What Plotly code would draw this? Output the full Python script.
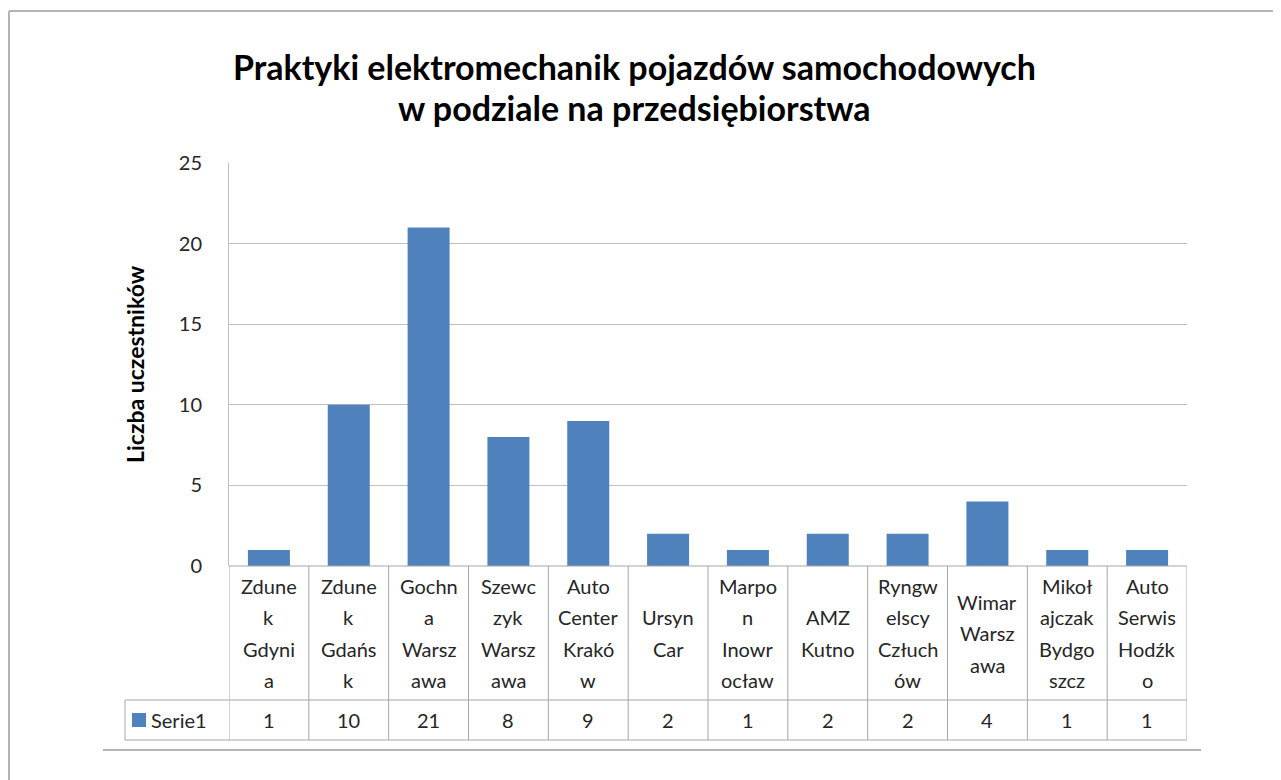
import plotly.graph_objects as go

# ---- data ----
categories = ["Zdunek Gdynia", "Zdunek Gdańsk", "Gochna Warszawa", "Szewczyk Warszawa",
              "Auto Center Kraków", "Ursyn Car", "Marpon Inowrocław", "AMZ Kutno",
              "Ryngwelscy Człuchów", "Wimar Warszawa", "Mikołajczak Bydgoszcz",
              "Auto Serwis Hodźko"]
label_lines = [["Zdune", "k", "Gdyni", "a"], ["Zdune", "k", "Gdańs", "k"],
               ["Gochn", "a", "Warsz", "awa"], ["Szewc", "zyk", "Warsz", "awa"],
               ["Auto", "Center", "Krakó", "w"], ["Ursyn", "Car"],
               ["Marpo", "n", "Inowr", "ocław"], ["AMZ", "Kutno"],
               ["Ryngw", "elscy", "Człuch", "ów"], ["Wimar", "Warsz", "awa"],
               ["Mikoł", "ajczak", "Bydgo", "szcz"], ["Auto", "Serwis", "Hodźk", "o"]]
values = [1, 10, 21, 8, 9, 2, 1, 2, 2, 4, 1, 1]
series_name = "Serie1"
y_ticks = [0, 5, 10, 15, 20, 25]
title_lines = ["Praktyki elektromechanik pojazdów samochodowych",
               "w podziale na przedsiębiorstwa"]
y_title = "Liczba uczestników"

# ---- layout geometry (screen pixels; page body has an 8px margin) ----
OFF = 8
W, H = 1281 - OFF, 780 - OFF
L, R, T, B = 229, 1187, 163, 566   # screen coords of the plot area
BAR = "#4F81BD"
GRID = "#bfbfbf"
TXT = "#262626"
FONT = "Lato"

def px(x):
    return (x - L) / (R - L)

def py(y):
    return (B - y) / (B - T)

fig = go.Figure()
fig.add_trace(go.Bar(x=list(range(len(values))), y=values, marker_color=BAR,
                     marker_line_width=0, name=series_name, showlegend=False))

fig.update_layout(
    width=W, height=H,
    margin=dict(l=L - OFF, r=W - (R - OFF), t=T - OFF, b=H - (B - OFF)),
    paper_bgcolor="white", plot_bgcolor="white",
    bargap=0.474,
    font=dict(family=FONT, color=TXT),
    xaxis=dict(range=[-0.5, len(values) - 0.5], showticklabels=False, showgrid=False,
               zeroline=False, showline=False, ticks=""),
    yaxis=dict(range=[0, 25], tickvals=y_ticks, showgrid=True, gridcolor=GRID, gridwidth=1,
               zeroline=False, showline=True, linecolor=GRID, linewidth=1,
               ticks="outside", ticklen=0, ticklabelstandoff=22,
               tickfont=dict(family=FONT, size=20, color=TXT)),
)

shapes = []
ann = []

# outer border lines (top and left)
shapes.append(dict(type="line", xref="paper", yref="paper", x0=px(9), x1=px(1290),
                   y0=py(11), y1=py(11), line=dict(color="#b4b4b4", width=2)))
shapes.append(dict(type="line", xref="paper", yref="paper", x0=px(9), x1=px(9),
                   y0=py(11), y1=py(790), line=dict(color="#b4b4b4", width=2)))
# bottom separator
shapes.append(dict(type="line", xref="paper", yref="paper", x0=px(103), x1=px(1201),
                   y0=py(750), y1=py(750), line=dict(color="#b4b4b4", width=2)))

# title
for i, t in enumerate(title_lines):
    ann.append(dict(text=f"<b>{t}</b>", xref="paper", yref="paper", x=px(634), y=py(67 + 40 * i),
                    showarrow=False, xanchor="center", yanchor="middle",
                    font=dict(family=FONT, size=34, color="#000000")))

# y title
ann.append(dict(text=f"<b>{y_title}</b>", xref="paper", yref="paper", x=px(135), y=py(364),
                textangle=-90, showarrow=False, xanchor="center", yanchor="middle",
                font=dict(family=FONT, size=23, color="#000000")))

# data table
TCOL = "#a6a6a6"
ROW1_B, ROW2_B = 700, 740
shapes.append(dict(type="line", xref="paper", yref="paper", x0=px(L), x1=px(R),
                   y0=py(B), y1=py(B), line=dict(color=TCOL, width=1)))
shapes.append(dict(type="line", xref="paper", yref="paper", x0=px(125), x1=px(R),
                   y0=py(ROW1_B), y1=py(ROW1_B), line=dict(color=TCOL, width=1)))
shapes.append(dict(type="line", xref="paper", yref="paper", x0=px(125), x1=px(R),
                   y0=py(ROW2_B), y1=py(ROW2_B), line=dict(color=TCOL, width=1)))
shapes.append(dict(type="line", xref="paper", yref="paper", x0=px(125), x1=px(125),
                   y0=py(ROW1_B), y1=py(ROW2_B), line=dict(color=TCOL, width=1)))
for i in range(len(values) + 1):
    shapes.append(dict(type="line", xref="x", yref="paper", x0=i - 0.5, x1=i - 0.5,
                       y0=py(B), y1=py(ROW2_B), line=dict(color=TCOL, width=1)))

LINE_H = 31.5
for i, lines in enumerate(label_lines):
    n = len(lines)
    c = (B + ROW1_B) / 2
    for k, s in enumerate(lines):
        yy = c + (k - (n - 1) / 2) * LINE_H
        ann.append(dict(text=s, xref="x", yref="paper", x=i, y=py(yy), showarrow=False,
                        xanchor="center", yanchor="middle",
                        font=dict(family=FONT, size=20, color=TXT)))
    ann.append(dict(text=str(values[i]), xref="x", yref="paper", x=i,
                    y=py((ROW1_B + ROW2_B) / 2), showarrow=False, xanchor="center",
                    yanchor="middle", font=dict(family=FONT, size=20, color=TXT)))

# legend key in table
shapes.append(dict(type="rect", xref="paper", yref="paper", x0=px(132), x1=px(146),
                   y0=py(713), y1=py(727), fillcolor=BAR, line=dict(width=0)))
ann.append(dict(text=series_name, xref="paper", yref="paper", x=px(149), y=py(720),
                showarrow=False, xanchor="left", yanchor="middle",
                font=dict(family=FONT, size=20, color=TXT)))

fig.update_layout(shapes=shapes, annotations=ann)
fig.write_html("out.html")
